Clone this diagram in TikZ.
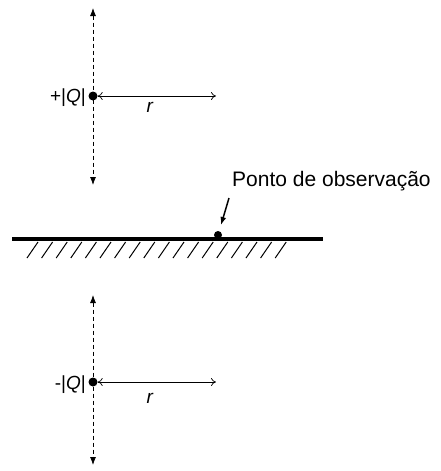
\documentclass[tikz,border=0pt]{standalone}
\usepackage{fontspec}
\setmainfont{Liberation Sans}
\usetikzlibrary{arrows.meta}
\begin{document}
\begin{tikzpicture}[x=1pt,y=-1pt,
  charge/.style={circle,fill=black,inner sep=0pt,minimum size=9pt},
  axisline/.style={dash pattern=on 4pt off 3pt, line width=0.8pt, {Latex[length=8pt,width=6pt]}-{Latex[length=8pt,width=6pt]}},
  dist/.style={line width=0.7pt,{To[length=5pt,width=8pt]}-{To[length=5pt,width=8pt]}},
  lbl/.style={font=\fontsize{19}{22}\selectfont, inner sep=0pt},
  hatch/.style={line width=1pt}]
\useasboundingbox (0,0) rectangle (440,471);
% top charge
\coordinate (qtU) at (93,8);
\coordinate (qtD) at (93,185);
\draw[axisline] (qtU) -- (qtD);
\node[charge] (qt) at (93,96) {};
\coordinate (qtR) at (216,96);
\draw[dist] (qt.east) -- (qtR);
\node[lbl, anchor=east] (lt) at (86,98) {+|\textit{Q}|};
\node[lbl] (rt) at (150,107) {\textit{r}};
% ground
\coordinate (gl) at (12,239);
\coordinate (gr) at (323,239);
\draw[line width=4pt] (gl) -- (gr);
\foreach \i in {0,...,17} \draw[hatch] (27+\i*14.6,258) -- (38+\i*14.6,242);
\node[charge, minimum size=8pt] (obs) at (218,235) {};
\node[font=\fontsize{21}{25}\selectfont, anchor=west, inner sep=0pt] (pt) at (232,181) {Ponto de observação};
\coordinate (pa) at (229,198);
\coordinate (pb) at (221,225);
\draw[line width=1.5pt, -{Latex[length=8pt,width=6pt]}] (pa) -- (pb);
% bottom charge
\coordinate (qbU) at (93,295);
\coordinate (qbD) at (93,465);
\draw[axisline] (qbU) -- (qbD);
\node[charge] (qb) at (93,382) {};
\coordinate (qbR) at (216,382);
\draw[dist] (qb.east) -- (qbR);
\node[lbl, anchor=east] (lb) at (86,385) {-|\textit{Q}|};
\node[lbl] (rb) at (150,398) {\textit{r}};
\end{tikzpicture}
\end{document}
